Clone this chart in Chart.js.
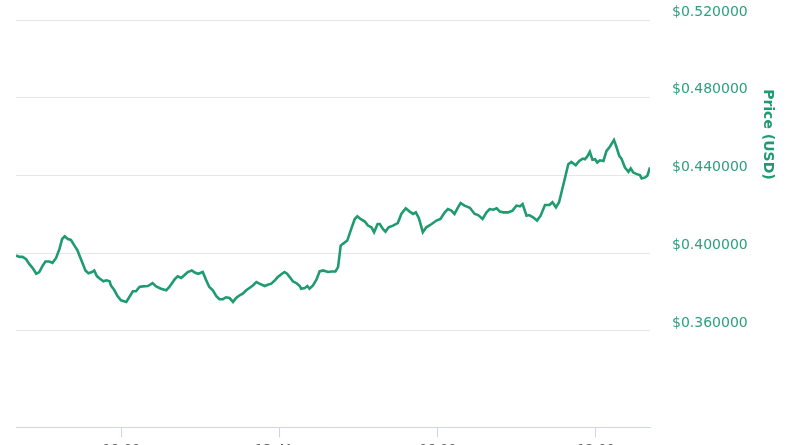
<!DOCTYPE html>
<html>
<head>
<meta charset="utf-8">
<script src="https://cdn.jsdelivr.net/npm/chart.js@4"></script>
<style>
  html, body { margin: 0; padding: 0; background: #fff; overflow: hidden; }
  #wrap { position: relative; width: 800px; height: 445px; overflow: hidden; }
  #box { position: absolute; left: 0; top: -189px; width: 800px; height: 650px; }
</style>
</head>
<body>
<div id="wrap"><div id="box"><canvas id="chart"></canvas></div></div>
<script>
// minutes since 12 Mar 14:00
let minutes = [
  0, 8, 15, 23, 30, 38, 46, 53, 61, 67,
  76, 83, 91, 99, 105, 111, 118, 125, 133, 140,
  146, 152, 158, 165, 173, 178, 184, 191, 199, 206,
  213, 216, 224, 231, 239, 251, 258, 266, 273, 281,
  288, 300, 311, 319, 330, 342, 349, 361, 368, 376,
  383, 391, 400, 408, 415, 425, 433, 440, 448, 456,
  463, 471, 478, 486, 494, 501, 509, 516, 524, 532,
  539, 547, 554, 566, 573, 581, 589, 596, 604, 611,
  617, 623, 630, 638, 646, 649, 657, 663, 668, 676,
  684, 691, 699, 710, 718, 727, 733, 739, 744, 754,
  763, 771, 777, 784, 794, 801, 809, 815, 823, 828,
  835, 841, 848, 858, 869, 877, 887, 896, 904, 910,
  917, 926, 934, 946, 957, 966, 976, 983, 991, 998,
  1006, 1012, 1021, 1033, 1044, 1052, 1062, 1071, 1078, 1086,
  1094, 1101, 1109, 1120, 1130, 1139, 1147, 1153, 1162, 1168,
  1177, 1186, 1194, 1204, 1214, 1221, 1229, 1236, 1247, 1257,
  1264, 1274, 1282, 1290, 1295, 1300, 1306, 1312, 1318, 1323,
  1329, 1337, 1344, 1352, 1361, 1367, 1373, 1378, 1386, 1394,
  1399, 1405, 1413, 1420, 1424, 1432, 1437, 1443
];

let prices = [
  0.3988, 0.3981, 0.3981, 0.3969, 0.3945, 0.3923, 0.3894, 0.3903, 0.3937, 0.3957,
  0.3957, 0.3950, 0.3974, 0.4022, 0.4073, 0.4087, 0.4073, 0.4068, 0.4039, 0.4014,
  0.3979, 0.3945, 0.3911, 0.3897, 0.3903, 0.3911, 0.3882, 0.3868, 0.3855, 0.3860,
  0.3855, 0.3834, 0.3809, 0.3779, 0.3757, 0.3749, 0.3774, 0.3804, 0.3804, 0.3826,
  0.3829, 0.3831, 0.3846, 0.3829, 0.3817, 0.3809, 0.3826, 0.3865, 0.3881, 0.3872,
  0.3886, 0.3903, 0.3911, 0.3899, 0.3894, 0.3903, 0.3860, 0.3826, 0.3809, 0.3779,
  0.3763, 0.3763, 0.3773, 0.3769, 0.3749, 0.3769, 0.3783, 0.3791, 0.3809, 0.3822,
  0.3834, 0.3851, 0.3843, 0.3831, 0.3837, 0.3843, 0.3860, 0.3877, 0.3891, 0.3903,
  0.3894, 0.3877, 0.3855, 0.3846, 0.3831, 0.3817, 0.3820, 0.3831, 0.3817, 0.3834,
  0.3865, 0.3906, 0.3911, 0.3903, 0.3906, 0.3906, 0.3928, 0.4039, 0.4048, 0.4065,
  0.4125, 0.4176, 0.4190, 0.4176, 0.4163, 0.4142, 0.4133, 0.4108, 0.4150, 0.4150,
  0.4125, 0.4111, 0.4133, 0.4142, 0.4155, 0.4202, 0.4231, 0.4214, 0.4202, 0.4210,
  0.4180, 0.4108, 0.4133, 0.4150, 0.4168, 0.4176, 0.4210, 0.4227, 0.4219, 0.4202,
  0.4236, 0.4258, 0.4245, 0.4234, 0.4202, 0.4196, 0.4176, 0.4210, 0.4227, 0.4224,
  0.4231, 0.4214, 0.4210, 0.4210, 0.4219, 0.4245, 0.4241, 0.4253, 0.4193, 0.4196,
  0.4185, 0.4168, 0.4193, 0.4248, 0.4248, 0.4262, 0.4236, 0.4262, 0.4364, 0.4458,
  0.4470, 0.4453, 0.4475, 0.4487, 0.4484, 0.4497, 0.4522, 0.4481, 0.4484, 0.4467,
  0.4478, 0.4475, 0.4527, 0.4549, 0.4583, 0.4544, 0.4501, 0.4487, 0.4441, 0.4419,
  0.4436, 0.4415, 0.4407, 0.4402, 0.4385, 0.4390, 0.4399, 0.4441
];

let xTickValues = [240, 600, 960, 1320];
let xTickLabels = ["18:00", "13. Mar", "06:00", "12:00"];
let yTickValues = [0.36, 0.40, 0.44, 0.48, 0.52, 0.56, 0.60];

let green = "#1f9b6f";
let labelGreen = "#2ba07e";

let points = minutes.map((m, i) => ({x: m, y: prices[i]}));

let chartCanvas = document.getElementById("chart").getContext('2d');
let graph = new Chart(chartCanvas, {
    type: 'line',
    data: {
        datasets: [{
            label: "Price",
            data: points,
            borderColor: green,
            borderWidth: 2.6,
            pointRadius: 0,
            tension: 0,
            fill: false
        }]
    },
    options: {
        responsive: true,
        maintainAspectRatio: false,
        animation: false,
        layout: {padding: {left: 16, right: 0, top: 0, bottom: 0}},
        plugins: {
            legend: {display: false},
            tooltip: {enabled: false}
        },
        scales: {
            x: {
                type: 'linear',
                min: 0,
                max: 1443,
                afterBuildTicks: (scale) => {
                    scale.ticks = xTickValues.map(v => ({value: v}));
                },
                ticks: {
                    autoSkip: false,
                    maxRotation: 0,
                    padding: 4,
                    color: "#666666",
                    font: {family: "DejaVu Sans", size: 13},
                    callback: (v) => xTickLabels[xTickValues.indexOf(v)]
                },
                grid: {
                    drawOnChartArea: false,
                    drawTicks: true,
                    tickLength: 10,
                    color: "#ccd6eb"
                },
                border: {display: true, color: "#ccd6eb", width: 1}
            },
            y: {
                type: 'linear',
                position: 'right',
                min: 0.3103,
                max: 0.612,
                afterBuildTicks: (scale) => {
                    scale.ticks = yTickValues.map(v => ({value: v}));
                },
                afterFit: (scale) => { scale.width = 150; },
                ticks: {
                    padding: 22,
                    labelOffset: -8,
                    color: labelGreen,
                    font: {family: "DejaVu Sans", size: 14},
                    callback: (v) => "$" + v.toFixed(6)
                },
                grid: {
                    drawTicks: false,
                    color: "#e6e6e6",
                    lineWidth: 1
                },
                border: {display: false},
                title: {
                    display: true,
                    text: "Price (USD)",
                    color: green,
                    padding: {top: 24, bottom: 0},
                    font: {family: "DejaVu Sans", size: 14, weight: 'bold'}
                }
            }
        }
    }
});
</script>
</body>
</html>
